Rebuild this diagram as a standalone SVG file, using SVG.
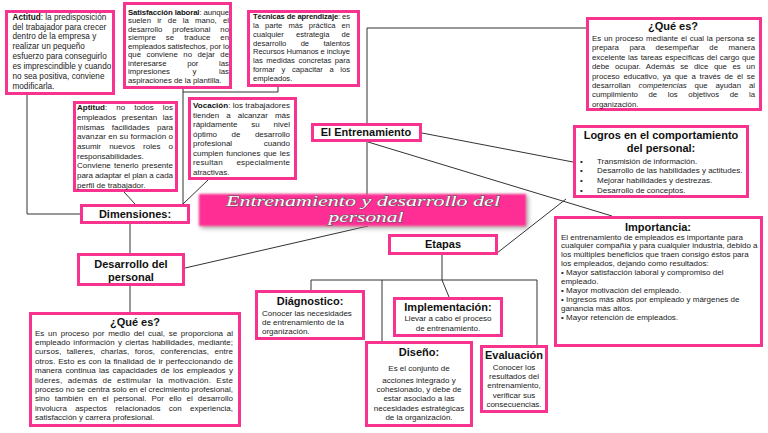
<svg xmlns="http://www.w3.org/2000/svg" width="768" height="433" viewBox="0 0 768 433">
<defs>
<filter id="glow" x="-10%" y="-40%" width="120%" height="180%">
<feGaussianBlur in="SourceAlpha" stdDeviation="2.5" result="b"/>
<feOffset in="b" dx="1.5" dy="2" result="o"/>
<feFlood flood-color="#777" flood-opacity="0.7"/>
<feComposite in2="o" operator="in" result="s"/>
<feGaussianBlur in="SourceGraphic" stdDeviation="1.2" result="g"/>
<feMerge><feMergeNode in="s"/><feMergeNode in="g"/></feMerge>
</filter>
</defs>
<style>
.box{fill:#fff;stroke:#f8338f;stroke-width:3}
.t{font-family:"Liberation Sans",Arial,sans-serif;font-size:8px;fill:#222}
.s{font-size:7.8px}
.tq{font-size:7.6px}
.b{font-weight:bold;fill:#111}
.h{font-family:"Liberation Sans",Arial,sans-serif;font-size:11px;font-weight:bold;fill:#111;text-anchor:middle}
.m{text-anchor:middle}
.c{fill:none;stroke:#333;stroke-width:1}
.hd{font-family:"Liberation Serif","DejaVu Serif",serif;font-style:italic;font-size:15px;fill:#fff;stroke:#555;stroke-width:0.8;paint-order:stroke;text-anchor:middle}
</style>
<rect width="768" height="433" fill="#fff"/>

<g id="connectors">
<path class="c" d="M27 95 V214 H80"/>
<path class="c" d="M124 192 L135 204"/>
<path class="c" d="M208 180 L183 204"/>
<path class="c" d="M183 89 V204"/>
<path class="c" d="M183 92 H278 V87"/>
<path class="c" d="M130 224 V253"/>
<path class="c" d="M130 286 V312"/>
<path class="c" d="M185 268 L368 226"/>
<path class="c" d="M367 123 V28 H586"/>
<path class="c" d="M367 142 V195"/>
<path class="c" d="M422 133 L573 162"/>
<path class="c" d="M368 142 L612 216"/>
<path class="c" d="M497 253 L566 199"/>
<path class="c" d="M442 255 V280 L449 297"/>
<path class="c" d="M311 290 V280 H537 V345"/>
<path class="c" d="M382 280 V341"/>
</g>

<g id="header">
<rect x="199" y="194" width="327" height="32" fill="#ff2e95" filter="url(#glow)"/>
<text class="hd" x="363" y="206" textLength="274" lengthAdjust="spacingAndGlyphs">Entrenamiento y desarrollo del</text>
<text class="hd" x="366" y="221.5" textLength="75" lengthAdjust="spacingAndGlyphs">personal</text>
</g>

<g id="actitud">
<rect class="box" x="6.5" y="11.5" width="107" height="82"/>
<text class="t" style="font-size:8.2px" x="12.5" y="19.6"><tspan class="b">Actitud</tspan>: la predisposición</text>
<text class="t" style="font-size:8.2px" x="12.5" y="29.5">del trabajador para crecer</text>
<text class="t" style="font-size:8.2px" x="12.5" y="39.4">dentro de la empresa y</text>
<text class="t" style="font-size:8.2px" x="12.5" y="49.3">realizar un pequeño</text>
<text class="t" style="font-size:8.2px" x="12.5" y="59.2">esfuerzo para conseguirlo</text>
<text class="t" style="font-size:8.2px" x="12.5" y="69.1">es imprescindible y cuando</text>
<text class="t" style="font-size:8.2px" x="12.5" y="79">no sea positiva, conviene</text>
<text class="t" style="font-size:8.2px" x="12.5" y="88.9">modificarla.</text>
</g>

<g id="satisfaccion">
<rect class="box" x="124.5" y="3.5" width="106" height="84"/>
<text class="t s" x="128" y="14.8" textLength="101" lengthAdjust="spacing"><tspan class="b">Satisfacción laboral</tspan>: aunque</text>
<text class="t s" x="128" y="23.3" textLength="101" lengthAdjust="spacing" style="word-spacing:4px">suelen ir de la mano, el</text>
<text class="t s" x="128" y="31.8" textLength="101" lengthAdjust="spacing" style="word-spacing:7.8px">desarrollo profesional no</text>
<text class="t s" x="128" y="40.3" textLength="101" lengthAdjust="spacing" style="word-spacing:7.9px">siempre se traduce en</text>
<text class="t s" x="128" y="48.8" textLength="101" lengthAdjust="spacing">empleados satisfechos, por lo</text>
<text class="t s" x="128" y="57.3" textLength="101" lengthAdjust="spacing" style="word-spacing:3.3px">que conviene no dejar de</text>
<text class="t s" x="128" y="65.8" textLength="101" lengthAdjust="spacing" style="word-spacing:18.4px">interesarse por las</text>
<text class="t s" x="128" y="74.3" textLength="101" lengthAdjust="spacing" style="word-spacing:20.4px">impresiones y las</text>
<text class="t s" x="128" y="82.8">aspiraciones de la plantilla.</text>
</g>

<g id="tecnicas">
<rect class="box" x="248.5" y="11.5" width="110" height="74"/>
<text class="t tq" x="253" y="18.8" textLength="97" lengthAdjust="spacing"><tspan class="b">Técnicas de aprendizaje</tspan>: es</text>
<text class="t tq" x="253" y="27.7" textLength="97" lengthAdjust="spacing" style="word-spacing:4px">la parte más práctica en</text>
<text class="t tq" x="253" y="36.6" textLength="97" lengthAdjust="spacing" style="word-spacing:10px">cualquier estrategia de</text>
<text class="t tq" x="253" y="45.5" textLength="97" lengthAdjust="spacing" style="word-spacing:12.2px">desarrollo de talentos</text>
<text class="t tq" x="253" y="54.4" textLength="97" lengthAdjust="spacing">Recursos Humanos e incluye</text>
<text class="t tq" x="253" y="63.3" textLength="97" lengthAdjust="spacing" style="word-spacing:1.4px">las medidas concretas para</text>
<text class="t tq" x="253" y="72.2" textLength="97" lengthAdjust="spacing" style="word-spacing:4.5px">formar y capacitar a los</text>
<text class="t tq" x="253" y="81.1">empleados.</text>
</g>

<g id="aptitud">
<rect class="box" x="74.5" y="102.5" width="102" height="88"/>
<text class="t" x="77" y="110.2" textLength="96" lengthAdjust="spacing" style="word-spacing:6.8px"><tspan class="b">Aptitud</tspan>: no todos los</text>
<text class="t" x="77" y="119.9" textLength="96" lengthAdjust="spacing" style="word-spacing:3.3px">empleados presentan las</text>
<text class="t" x="77" y="129.6" textLength="96" lengthAdjust="spacing" style="word-spacing:5.1px">mismas facilidades para</text>
<text class="t" x="77" y="139.3" textLength="96" lengthAdjust="spacing">avanzar en su formación o</text>
<text class="t" x="77" y="149" textLength="96" lengthAdjust="spacing" style="word-spacing:5.9px">asumir nuevos roles o</text>
<text class="t" x="77" y="158.7">responsabilidades.</text>
<text class="t" x="77" y="168.4" textLength="96" lengthAdjust="spacing" style="word-spacing:1.1px">Conviene tenerlo presente</text>
<text class="t" x="77" y="178.1" textLength="96" lengthAdjust="spacing">para adaptar el plan a cada</text>
<text class="t" x="77" y="187.8">perfil de trabajador.</text>
</g>

<g id="vocacion">
<rect class="box" x="189.5" y="98.5" width="106" height="80"/>
<text class="t" x="193" y="107.9" textLength="97" lengthAdjust="spacing"><tspan class="b">Vocación</tspan>: los trabajadores</text>
<text class="t" x="193" y="117.5" textLength="97" lengthAdjust="spacing" style="word-spacing:4.8px">tienden a alcanzar más</text>
<text class="t" x="193" y="127" textLength="97" lengthAdjust="spacing" style="word-spacing:11.6px">rápidamente su nivel</text>
<text class="t" x="193" y="136.6" textLength="97" lengthAdjust="spacing" style="word-spacing:12.3px">óptimo de desarrollo</text>
<text class="t" x="193" y="146.2" textLength="97" lengthAdjust="spacing" style="word-spacing:29.4px">profesional cuando</text>
<text class="t" x="193" y="155.7" textLength="97" lengthAdjust="spacing" style="word-spacing:0.8px">cumplen funciones que les</text>
<text class="t" x="193" y="165.3" textLength="97" lengthAdjust="spacing" style="word-spacing:11.2px">resultan especialmente</text>
<text class="t" x="193" y="174.9">atractivas.</text>
</g>

<g id="entrenamiento">
<rect class="box" x="312.5" y="124.5" width="108" height="16"/>
<text class="h" x="366" y="136">El Entrenamiento</text>
</g>

<g id="que-es-entrenamiento">
<rect class="box" x="587.5" y="18.5" width="173" height="91"/>
<text class="h" x="673" y="30">¿Qué es?</text>
<text class="t s" x="592" y="41" textLength="163" lengthAdjust="spacing" style="word-spacing:0.6px">Es un proceso mediante el cual la persona se</text>
<text class="t s" x="592" y="50.4" textLength="163" lengthAdjust="spacing" style="word-spacing:8.4px">prepara para desempeñar de manera</text>
<text class="t s" x="592" y="59.8" textLength="163" lengthAdjust="spacing" style="word-spacing:0.5px">excelente las tareas específicas del cargo que</text>
<text class="t s" x="592" y="69.2" textLength="163" lengthAdjust="spacing" style="word-spacing:3.3px">debe ocupar. Además se dice que es un</text>
<text class="t s" x="592" y="78.6" textLength="163" lengthAdjust="spacing" style="word-spacing:1.6px">proceso educativo, ya que a través de él se</text>
<text class="t s" x="592" y="88" textLength="163" lengthAdjust="spacing" style="word-spacing:5.7px">desarrollan <tspan font-style="italic">competencias</tspan> que ayudan al</text>
<text class="t s" x="592" y="97.4" textLength="163" lengthAdjust="spacing" style="word-spacing:8.4px">cumplimiento de los objetivos de la</text>
<text class="t s" x="592" y="106.8">organización.</text>
</g>

<g id="logros">
<rect class="box" x="574.5" y="126.5" width="173" height="70"/>
<text class="h" x="661" y="139">Logros en el comportamiento</text>
<text class="h" x="661" y="152">del personal:</text>
<text class="t" x="580" y="163.5">•</text><text class="t" x="597" y="163.5">Transmisión de información.</text>
<text class="t" x="580" y="173">•</text><text class="t" x="597" y="173">Desarrollo de las habilidades y actitudes.</text>
<text class="t" x="580" y="182.8">•</text><text class="t" x="597" y="182.8">Mejorar habilidades y destrezas.</text>
<text class="t" x="580" y="192.5">•</text><text class="t" x="597" y="192.5">Desarrollo de conceptos.</text>
</g>

<g id="importancia">
<rect class="box" x="555.5" y="217.5" width="206" height="128"/>
<text class="h" x="658" y="231">Importancia:</text>
<text class="t" x="561" y="239.5">El entrenamiento de empleados es importante para</text>
<text class="t" x="561" y="248.4">cualquier compañía y para cualquier industria, debido a</text>
<text class="t" x="561" y="257.3">los múltiples beneficios que traen consigo éstos para</text>
<text class="t" x="561" y="266.2">los empleados, dejando como resultados:</text>
<text class="t" x="561" y="275.1">• Mayor satisfacción laboral y compromiso del</text>
<text class="t" x="561" y="284">empleado.</text>
<text class="t" x="561" y="292.9">• Mayor motivación del empleado.</text>
<text class="t" x="561" y="301.8">• Ingresos más altos por empleado y márgenes de</text>
<text class="t" x="561" y="310.7">ganancia más altos.</text>
<text class="t" x="561" y="319.6">• Mayor retención de empleados.</text>
</g>

<g id="dimensiones">
<rect class="box" x="81.5" y="205.5" width="107" height="17"/>
<text class="h" x="135" y="218">Dimensiones:</text>
</g>

<g id="desarrollo">
<rect class="box" x="78.5" y="254.5" width="105" height="30"/>
<text class="h" x="131" y="267.5">Desarrollo del</text>
<text class="h" x="131" y="280.5">personal</text>
</g>

<g id="que-es-desarrollo">
<rect class="box" x="30.5" y="313.5" width="209" height="112"/>
<text class="h" x="135" y="326">¿Qué es?</text>
<text class="t" x="35" y="335.5" textLength="198" lengthAdjust="spacing" style="word-spacing:1.5px">Es un proceso por medio del cual, se proporciona al</text>
<text class="t" x="35" y="344.9" textLength="198" lengthAdjust="spacing" style="word-spacing:1px">empleado información y ciertas habilidades, mediante;</text>
<text class="t" x="35" y="354.3" textLength="198" lengthAdjust="spacing" style="word-spacing:3px">cursos, talleres, charlas, foros, conferencias, entre</text>
<text class="t" x="35" y="363.7" textLength="198" lengthAdjust="spacing" style="word-spacing:0.5px">otros. Esto es con la finalidad de ir perfeccionando de</text>
<text class="t" x="35" y="373.1" textLength="198" lengthAdjust="spacing" style="word-spacing:1.2px">manera continua las capacidades de los empleados y</text>
<text class="t" x="35" y="382.5" textLength="198" lengthAdjust="spacing" style="word-spacing:2.7px">lideres,  además de estimular la motivación. Este</text>
<text class="t" x="35" y="391.9" textLength="198" lengthAdjust="spacing">proceso no se centra solo en el crecimiento profesional,</text>
<text class="t" x="35" y="401.3" textLength="198" lengthAdjust="spacing" style="word-spacing:2.8px">sino también en el personal. Por ello el desarrollo</text>
<text class="t" x="35" y="410.7" textLength="198" lengthAdjust="spacing" style="word-spacing:6.1px">involucra aspectos relacionados con experiencia,</text>
<text class="t" x="35" y="420.1">satisfacción y carrera profesional.</text>
</g>

<g id="etapas">
<rect class="box" x="389.5" y="235.5" width="107" height="18"/>
<text class="h" x="443" y="248">Etapas</text>
</g>

<g id="diagnostico">
<rect class="box" x="256.5" y="291.5" width="107" height="47"/>
<text class="h" x="310" y="305">Diágnostico:</text>
<text class="t" x="262" y="315.5">Conocer las necesidades</text>
<text class="t" x="262" y="324.5">de entrenamiento de la</text>
<text class="t" x="262" y="333.8">organización.</text>
</g>

<g id="implementacion">
<rect class="box" x="394.5" y="298.5" width="107" height="37"/>
<text class="h" x="448" y="311">Implementación:</text>
<text class="t m" x="448" y="321">Llevar a cabo el proceso</text>
<text class="t m" x="448" y="330.5">de entrenamiento.</text>
</g>

<g id="diseno">
<rect class="box" x="366.5" y="342.5" width="105" height="83"/>
<text class="h" x="419" y="355.5">Diseño:</text>
<text class="t m" x="419" y="370.5">Es el conjunto de</text>
<text class="t m" x="419" y="382.8">acciones integrado y</text>
<text class="t m" x="419" y="392.1">cohesionado, y debe de</text>
<text class="t m" x="419" y="401.1">estar asociado a las</text>
<text class="t m" x="419" y="410.5">necesidades estratégicas</text>
<text class="t m" x="419" y="419.8">de la organización.</text>
</g>

<g id="evaluacion">
<rect class="box" x="481.5" y="346.5" width="65" height="65"/>
<text class="h" x="514" y="358.5">Evaluación</text>
<text class="t m" x="514" y="370">Conocer los</text>
<text class="t m" x="514" y="378.8">resultados del</text>
<text class="t m" x="514" y="387.8">entrenamiento,</text>
<text class="t m" x="514" y="397.8">verificar sus</text>
<text class="t m" x="514" y="406.8">consecuencias.</text>
</g>
</svg>
